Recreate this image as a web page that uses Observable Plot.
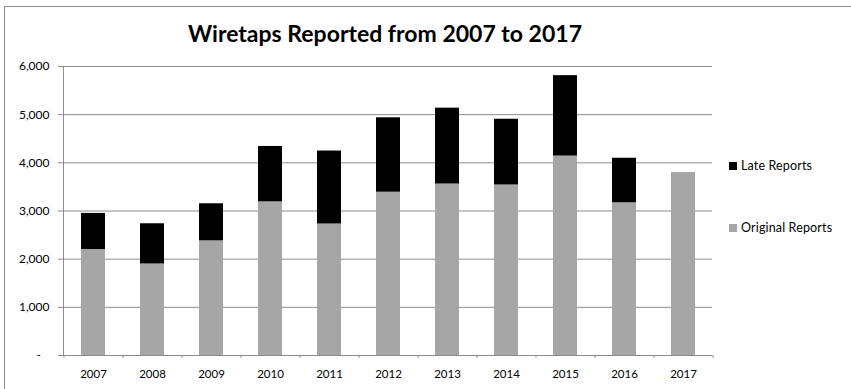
<!DOCTYPE html>
<html>
<head>
<meta charset="utf-8">
<script src="https://cdn.jsdelivr.net/npm/d3@7"></script>
<script src="https://cdn.jsdelivr.net/npm/@observablehq/plot@0.6"></script>
<style>
  html, body { margin: 0; padding: 0; background: #fff; overflow: hidden; }
  #wrap { position: relative; width: 851px; height: 389px; font-family: Lato, "Open Sans", sans-serif; }
  #frame { position: absolute; left: 4px; top: 6px; width: 900px; height: 500px; border: 1px solid #8c8c8c; box-sizing: border-box; }
  #title { position: absolute; left: 0; top: 19px; width: 770px; text-align: center; font-size: 23px; font-weight: bold; color: #000; }
  .leg { position: absolute; left: 729px; font-size: 12.5px; letter-spacing: 0.15px; color: #000; white-space: nowrap; }
  .leg span.sw { display: inline-block; width: 8px; height: 8px; margin-right: 4px; }
  #chart { position: absolute; left: 0; top: 0; }
</style>
</head>
<body>
<div id="wrap">
  <div id="frame"></div>
  <div id="chart"></div>
  <div id="title"></div>
  <div id="legend"></div>
</div>
<script>
const title = "Wiretaps Reported from 2007 to 2017";
const years = ["2007","2008","2009","2010","2011","2012","2013","2014","2015","2016","2017"];
const seriesNames = ["Original Reports", "Late Reports"];
const originalReports = [2200, 1900, 2380, 3190, 2730, 3390, 3560, 3540, 4140, 3170, 3800];
const lateReports     = [750,  835,  770,  1150, 1515, 1545, 1575, 1365, 1670, 925,  0];
const yTicks = [0, 1000, 2000, 3000, 4000, 5000, 6000];
const seriesColors = ["#a6a6a6", "#000000"];

const data = [];
years.forEach((y, i) => {
  data.push({year: y, series: seriesNames[0], value: originalReports[i]});
  data.push({year: y, series: seriesNames[1], value: lateReports[i]});
});

const W = 851, H = 389;
const mL = 63, mR = 851 - 712, mT = 66, mB = 389 - 355;
const bandW = (W - mL - mR) / years.length;

const fmt = v => v === 0 ? "-\u2007\u2009" : d3.format(",")(v);

const chart = Plot.plot({
  width: W,
  height: H,
  marginLeft: mL,
  marginRight: mR,
  marginTop: mT,
  marginBottom: mB,
  style: {fontFamily: "Lato, 'Open Sans', sans-serif", fontSize: "11px", background: "transparent", color: "#000"},
  x: {domain: years, paddingInner: 0.6, paddingOuter: 0.3, align: 0.5, label: null},
  y: {domain: [0, 6000], label: null},
  color: {domain: seriesNames, range: seriesColors},
  marks: [
    Plot.gridY(yTicks, {stroke: "#8c8c8c", strokeOpacity: 1}),
    Plot.barY(data, {x: "year", y: "value", fill: "series"}),
    Plot.ruleY([0], {stroke: "#8c8c8c"}),
    Plot.frame({anchor: "left", stroke: "#8c8c8c"}),
    Plot.axisY(yTicks, {tickSize: 5, tickPadding: 9, tickFormat: fmt, stroke: "#8c8c8c", fill: "#000", fontSize: 12}),
    Plot.axisX({tickSize: 0, tickPadding: 14, fill: "#000", fontSize: 11.5}),
    Plot.ruleX(years, {x: d => d, dx: -bandW / 2, y1: 0, y2: -60, stroke: "#8c8c8c"}),
    Plot.ruleX(years.slice(-1), {x: d => d, dx: bandW / 2, y1: 0, y2: -60, stroke: "#8c8c8c"})
  ]
});
chart.setAttribute("overflow", "visible");
document.getElementById("chart").appendChild(chart);
document.getElementById("title").textContent = title;

const legend = document.getElementById("legend");
const legendTops = {"Late Reports": 158, "Original Reports": 220};
[seriesNames[1], seriesNames[0]].forEach(name => {
  const idx = seriesNames.indexOf(name);
  const div = document.createElement("div");
  div.className = "leg";
  div.style.top = legendTops[name] + "px";
  const sw = document.createElement("span");
  sw.className = "sw";
  sw.style.background = seriesColors[idx];
  div.appendChild(sw);
  div.appendChild(document.createTextNode(name));
  legend.appendChild(div);
});
</script>
</body>
</html>
